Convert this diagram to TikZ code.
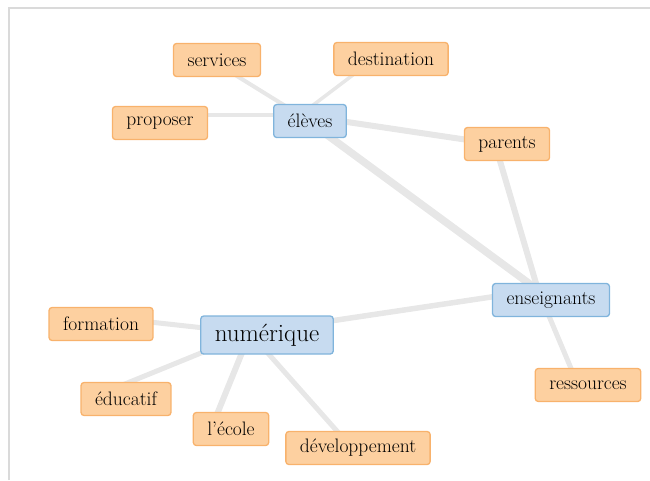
\documentclass[tikz,border=0pt]{standalone}
\usepackage{tikz}
\usetikzlibrary{backgrounds}

\definecolor{leaffill}{HTML}{FDD0A0}
\definecolor{leafline}{HTML}{F8B26C}
\definecolor{hubfill}{HTML}{C7DBF0}
\definecolor{hubline}{HTML}{80B4DC}
\definecolor{linkgray}{HTML}{E7E7E7}
\definecolor{framegray}{HTML}{DADADA}

\begin{document}
\begin{tikzpicture}[x=1pt,y=-1pt,
	word/.style={draw=leafline,fill=leaffill,line width=1.3pt,rounded corners=3pt,minimum height=33pt,inner xsep=14pt,font=\fontsize{19.5}{23}\selectfont},
	hub/.style={word,draw=hubline,fill=hubfill},
	link/.style={linkgray,line width=#1},
	link/.default=5pt]
	\useasboundingbox (0,0) rectangle (650,480);
	\draw[framegray,line width=1.5pt] (9,480) -- (9,8) -- (650,8);

	\node[hub] (eleves) at (310,121) {élèves};
	\node[hub] (ens) at (551,300) {enseignants};
	\node[hub,minimum height=38pt,font=\fontsize{25}{29}\selectfont] (num) at (267,335) {numérique};

	\node[word] (services) at (217,60) {services};
	\node[word] (dest) at (391,59) {destination};
	\node[word] (proposer) at (160,123) {proposer};
	\node[word] (parents) at (507,144) {parents};
	\node[word] (formation) at (101,324) {formation};
	\node[word] (educatif) at (126,399) {éducatif};
	\node[word] (ecole) at (231,429) {l'école};
	\node[word] (dev) at (358,448) {développement};
	\node[word] (res) at (588,385) {ressources};

	% links meet a little off the box centres
	\begin{scope}[on background layer]
		\draw[link=4pt] ([shift={(-10,-6)}]eleves.center) -- ([shift={(-6,0)}]services.center);
		\draw[link=3.5pt] ([shift={(-10,-6)}]eleves.center) -- ([shift={(-17,0)}]dest.center);
		\draw[link=4.5pt] ([shift={(-10,-6)}]eleves.center) -- ([shift={(-10,-8)}]proposer.center);
		\draw[link=6pt] ([shift={(-10,-6)}]eleves.center) -- ([shift={(-12,0)}]parents.center);
		\draw[link=7.5pt] ([shift={(-10,-6)}]eleves.center) -- ([shift={(-13,-10)}]ens.center);
		\draw[link=6pt] ([shift={(-12,0)}]parents.center) -- ([shift={(-13,-10)}]ens.center);
		\draw[link=5.5pt] ([shift={(-13,-10)}]ens.center) -- ([shift={(-17,-2)}]num.center);
		\draw[link] ([shift={(-13,-10)}]ens.center) -- ([shift={(-10,0)}]res.center);
		\draw[link] ([shift={(-17,-2)}]num.center) -- ([shift={(-6,-8)}]formation.center);
		\draw[link] ([shift={(-17,-2)}]num.center) -- ([shift={(-6,-13)}]educatif.center);
		\draw[link=6pt] ([shift={(-17,-2)}]num.center) -- ([shift={(-20,0)}]ecole.center);
		\draw[link] ([shift={(-17,-2)}]num.center) -- ([shift={(-6,0)}]dev.center);
	\end{scope}
\end{tikzpicture}
\end{document}
